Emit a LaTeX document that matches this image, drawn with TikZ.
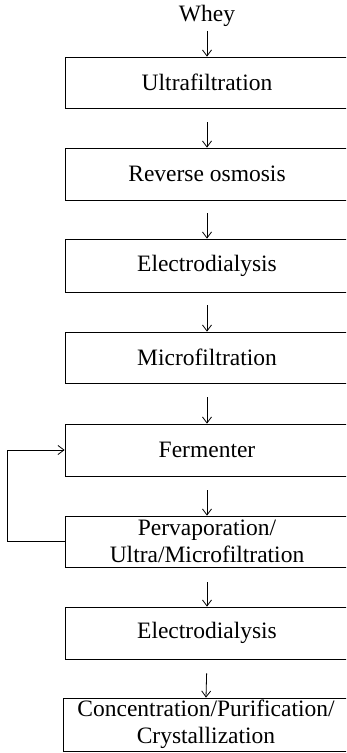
\documentclass[tikz,border=0pt]{standalone}
\usepackage{fontspec}
\setmainfont{Liberation Serif}
\usetikzlibrary{arrows.meta}
\begin{document}
\begin{tikzpicture}[x=1pt,y=-1pt,
  stagebox/.style={draw,line width=0.8pt,rectangle,minimum width=284pt,minimum height=51pt,inner sep=0pt,align=center,font=\fontsize{23.5}{27}\selectfont},
  flow/.style={line width=0.8pt,-{Straight Barb[length=6pt,width=9pt,line width=0.8pt]}},
  lbl/.style={font=\fontsize{23.5}{27}\selectfont,inner sep=0pt}]
\useasboundingbox (0,0) rectangle (346,753);
\clip (0,0) rectangle (346,753);
\node[lbl] (whey) at (207,16) {Whey};
\node[stagebox] (b1) at (207,82.5) {Ultrafiltration};
\node[stagebox,minimum height=52pt] (b2) at (207,174) {Reverse osmosis};
\node[stagebox,minimum height=53pt] (b3) at (207,265.5) {Electrodialysis};
\node[stagebox] (b4) at (207,357.5) {Microfiltration};
\node[stagebox,minimum height=52pt] (b5) at (207,450) {Fermenter};
\node[stagebox] (b6) at (207,541.5) {Pervaporation/\\Ultra/Microfiltration};
\node[stagebox,minimum height=52pt] (b7) at (207,633) {Electrodialysis};
\node[stagebox,minimum height=53pt,minimum width=286pt] (b8) at (206,724.5) {Concentration/Purification/\\Crystallization};
\draw[flow,shorten <=4pt] (whey.south) -- (b1.north);
\draw[flow,shorten <=14pt] (b1.south) -- (b2.north);
\draw[flow,shorten <=13pt] (b2.south) -- (b3.north);
\draw[flow,shorten <=13pt] (b3.south) -- (b4.north);
\draw[flow,shorten <=14pt] (b4.south) -- (b5.north);
\draw[flow,shorten <=14pt] (b5.south) -- (b6.north);
\draw[flow,shorten <=15pt] (b6.south) -- (b7.north);
\draw[flow,shorten <=14pt] (b7.south) -- (b8.north);
\draw[flow] (b6.west) -- ++(-57,0) |- (b5.west);
\end{tikzpicture}
\end{document}
